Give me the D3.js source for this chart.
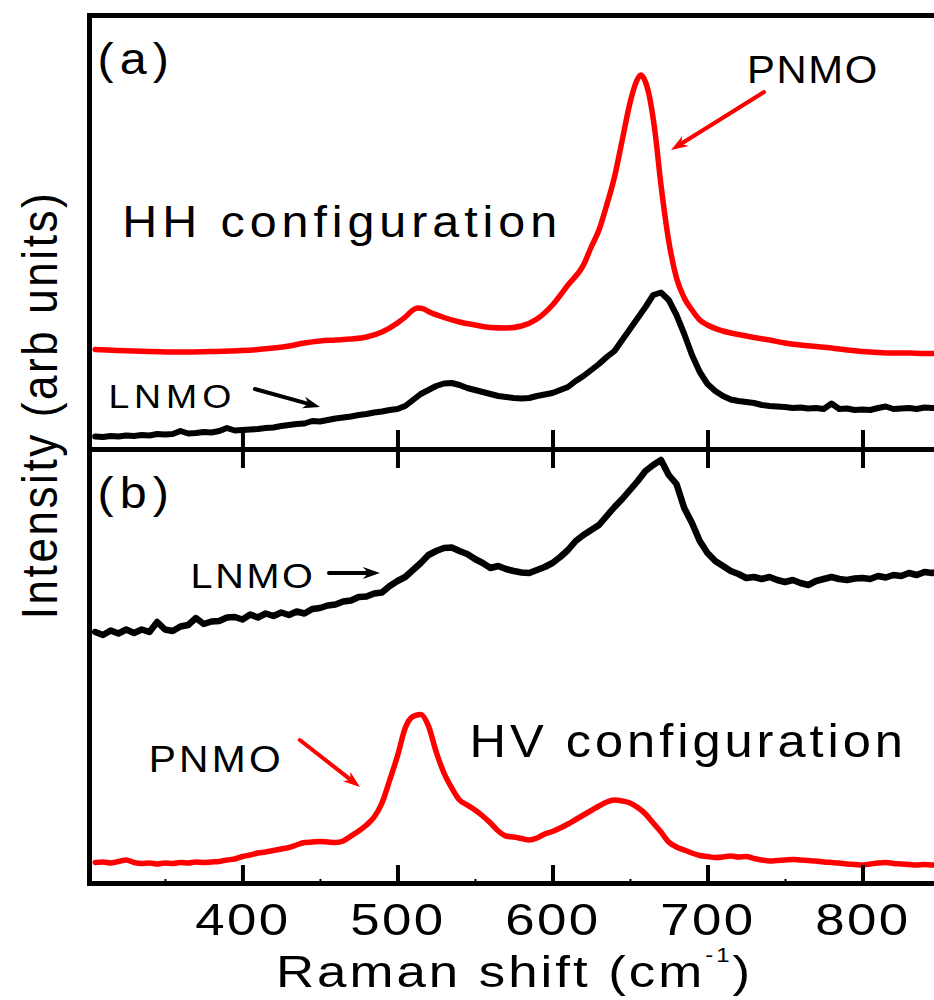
<!DOCTYPE html>
<html>
<head>
<meta charset="utf-8">
<script src="https://cdn.jsdelivr.net/npm/d3@7/dist/d3.min.js"></script>
<style>
  body { margin: 0; background: #fff; }
  svg text { font-family: "Liberation Sans", Arial, Helvetica, sans-serif; fill: #000; }
</style>
</head>
<body>
<div id="chart"></div>
<script>
/*
* Raman spectra of LNMO and PNMO films, HH (a) and HV (b) configurations
*/

//Raman shift grid (cm-1) shared by the 5 cm-1 sampled curves
var shiftGrid = [305, 310, 315, 320, 325, 330, 335, 340, 345, 350,
    355, 360, 365, 370, 375, 380, 385, 390, 395, 400,
    405, 410, 415, 420, 425, 430, 435, 440, 445, 450,
    455, 460, 465, 470, 475, 480, 485, 490, 495, 500,
    505, 510, 515, 520, 525, 530, 535, 540, 545, 550,
    555, 560, 565, 570, 575, 580, 585, 590, 595, 600,
    605, 610, 615, 620, 625, 630, 635, 640, 645, 650,
    655, 660, 665, 670, 675, 680, 685, 690, 695, 700,
    705, 710, 715, 720, 725, 730, 735, 740, 745, 750,
    755, 760, 765, 770, 775, 780, 785, 790, 795, 800,
    805, 810, 815, 820, 825, 830, 835, 840, 845, 850];

//(a) HH configuration, LNMO (black)
var hhLnmo = [125, 120, 130, 125, 135, 130, 140, 135, 150, 145,
    150, 180, 155, 160, 170, 165, 180, 210, 185, 190,
    195, 200, 210, 215, 230, 240, 250, 255, 280, 275,
    290, 305, 315, 325, 340, 350, 365, 375, 390, 400,
    430, 490, 550, 590, 630, 655, 660, 640, 610, 590,
    570, 550, 530, 520, 510, 505, 510, 530, 545, 560,
    590, 620, 680, 730, 790, 850, 920, 980, 1090, 1200,
    1310, 1420, 1540, 1565, 1490, 1340, 1150, 940, 770, 650,
    580, 530, 495, 480, 470, 460, 440, 430, 425, 420,
    410, 415, 405, 410, 400, 455, 400, 405, 390, 395,
    390, 410, 425, 400, 405, 410, 400, 415, 410, 415];

//(a) HH configuration, PNMO (red) - finer sampling round the sharp peak
var hhPnmoShift = [305, 320, 340, 360, 380, 400, 410, 420, 430, 440,
    450, 460, 470, 480, 490, 500, 505, 510, 513, 517,
    520, 530, 540, 550, 560, 570, 580, 590, 600, 610,
    620, 625, 630, 635, 640, 645, 650, 654, 657, 660,
    663, 666, 670, 675, 680, 685, 690, 695, 700, 710,
    720, 730, 740, 750, 760, 770, 780, 790, 800, 810,
    820, 830, 840, 850];
var hhPnmo = [995, 985, 975, 970, 975, 985, 995, 1010, 1030, 1060,
    1080, 1090, 1100, 1120, 1170, 1260, 1320, 1390, 1410, 1400,
    1375, 1315, 1270, 1240, 1215, 1210, 1230, 1300, 1440, 1640,
    1840, 2020, 2190, 2440, 2720, 3090, 3460, 3670, 3740, 3670,
    3490, 3190, 2640, 2080, 1710, 1510, 1390, 1290, 1240, 1180,
    1145, 1115, 1090, 1060, 1040, 1025, 1010, 990, 975, 965,
    960, 960, 955, 955];

//(b) HV configuration, LNMO (black)
var hvLnmo = [2510, 2480, 2525, 2495, 2535, 2500, 2535, 2510, 2610, 2535,
    2520, 2565, 2580, 2650, 2590, 2615, 2620, 2655, 2660, 2635,
    2685, 2655, 2695, 2670, 2705, 2680, 2715, 2695, 2740, 2750,
    2775, 2785, 2815, 2825, 2860, 2865, 2895, 2905, 2970, 3020,
    3060, 3130, 3200, 3280, 3320, 3350, 3355, 3320, 3290, 3240,
    3200, 3150, 3170, 3140, 3120, 3105, 3100, 3130, 3160, 3200,
    3260, 3330, 3420, 3480, 3530, 3580, 3670, 3760, 3840, 3930,
    4020, 4120, 4180, 4230, 4080, 3990, 3750, 3600, 3420, 3300,
    3220, 3170, 3120, 3090, 3050, 3060, 3040, 3060, 3030, 3010,
    3030, 3000, 2980, 3020, 3040, 3060, 3040, 3030, 3045, 3050,
    3040, 3070, 3055, 3080, 3070, 3100, 3080, 3110, 3100, 3120];

//(b) HV configuration, PNMO (red)
var hvPnmo = [205, 210, 200, 215, 230, 205, 195, 200, 190, 200,
    195, 205, 200, 210, 205, 210, 215, 230, 240, 265,
    280, 300, 310, 325, 340, 355, 380, 405, 410, 415,
    410, 405, 420, 470, 520, 580, 660, 800, 1030, 1270,
    1550, 1665, 1685, 1570, 1310, 1100, 950, 830, 780, 730,
    670, 600, 520, 470, 460, 445, 430, 450, 490, 515,
    550, 590, 635, 680, 725, 770, 810, 830, 820, 800,
    755, 690, 600, 510, 410, 360, 330, 300, 275, 265,
    255, 260, 270, 260, 265, 245, 230, 220, 225, 230,
    235, 230, 225, 220, 210, 205, 200, 190, 185, 180,
    190, 200, 205, 195, 190, 185, 180, 185, 180, 185];

var majorTicks = [400, 500, 600, 700, 800];
var minorTicks = [350, 450, 550, 650, 750, 850];

//Annotations, given in (shift, intensity) of their panel
var notes = [
    {panel: "a", text: "(a)", at: [306.5, 3750], size: 44, ls: 5.5},
    {panel: "a", text: "HH configuration", at: [322.5, 2120], size: 44, ls: 4.5},
    {panel: "a", text: "PNMO", at: [725.5, 3660], size: 38, ls: 1.5},
    {panel: "a", text: "LNMO", at: [313.5, 410], size: 34, ls: 4.5},
    {panel: "b", text: "(b)", at: [306.5, 3750], size: 44, ls: 5.5},
    {panel: "b", text: "LNMO", at: [366.5, 2950], size: 36, ls: 2.4},
    {panel: "b", text: "PNMO", at: [339.5, 1110], size: 37, ls: 3},
    {panel: "b", text: "HV configuration", at: [546.5, 1260], size: 46, ls: 3.6}
];
var arrows = [
    {panel: "a", from: [736.5, 3570], to: [676.5, 2990], color: "#ff0000"},
    {panel: "a", from: [408, 600], to: [450, 420], color: "#000"},
    {panel: "b", from: [455.8, 3100], to: [488.7, 3100], color: "#000"},
    {panel: "b", from: [437, 1430], to: [475.8, 960], color: "#ff0000"}
];

var width = 934, height = 1000;

var svg = d3.select("#chart")
    .append("svg")
    .attr("width", width)
    .attr("height", height);

//Scales: both panels share x, each panel has its own intensity scale
var x = d3.scaleLinear().domain([301, 850]).range([89, 940]);
var yA = d3.scaleLinear().domain([0, 4340]).range([449, 15]);
var yB = d3.scaleLinear().domain([0, 4340]).range([883, 449]);
var yOf = {a: yA, b: yB};

svg.append("clipPath").attr("id", "plotClip")
    .append("rect").attr("x", 89).attr("y", 15).attr("width", width - 89).attr("height", 868);

//Spectra
function drawSpectrum(shifts, values, y, color, strokeWidth, smooth) {
    var line = d3.line()
        .curve(smooth ? d3.curveMonotoneX : d3.curveLinear)
        .x(function (d) { return x(d[0]); })
        .y(function (d) { return y(d[1]); });
    svg.append("path")
        .datum(d3.zip(shifts, values))
        .attr("clip-path", "url(#plotClip)")
        .attr("d", line)
        .attr("fill", "none")
        .attr("stroke", color)
        .attr("stroke-width", strokeWidth)
        .attr("stroke-linejoin", "round")
        .attr("stroke-linecap", "round");
}

drawSpectrum(hhPnmoShift, hhPnmo, yA, "#ff0000", 5.5, true);
drawSpectrum(shiftGrid, hhLnmo, yA, "#000", 6, false);
drawSpectrum(shiftGrid, hvLnmo, yB, "#000", 6.5, false);
drawSpectrum(shiftGrid, hvPnmo, yB, "#ff0000", 5.5, true);

//Axis styling helper
function styleAxis(g, tickWidth) {
    g.select(".domain").attr("stroke", "#000").attr("stroke-width", 5).attr("stroke-linecap", "square");
    g.selectAll(".tick line").attr("stroke", "#000").attr("stroke-width", tickWidth);
}

//Top frame line
svg.append("g").attr("transform", "translate(0,15)")
    .call(d3.axisTop(x).tickValues([]).tickSizeOuter(0))
    .call(function (g) { styleAxis(g, 2); });

//Divider: ticks up into (a) and down into (b)
svg.append("g").attr("transform", "translate(0,449)")
    .call(d3.axisTop(x).tickValues(majorTicks).tickSize(19).tickSizeOuter(0).tickFormat(""))
    .call(function (g) { styleAxis(g, 4); });
svg.append("g").attr("transform", "translate(0,449)")
    .call(d3.axisBottom(x).tickValues(majorTicks).tickSize(19).tickSizeOuter(0).tickFormat(""))
    .call(function (g) { styleAxis(g, 4); });
svg.append("g").attr("transform", "translate(0,449)")
    .call(d3.axisBottom(x).tickValues(minorTicks).tickSize(3).tickSizeOuter(0).tickFormat(""))
    .call(function (g) { g.select(".domain").remove(); styleAxis(g, 2); });

//Bottom axis with labels
svg.append("g").attr("transform", "translate(0,883)")
    .call(d3.axisBottom(x).tickValues(majorTicks).tickSize(-18).tickSizeOuter(0).tickFormat(d3.format("d")))
    .call(function (g) {
        styleAxis(g, 4);
        g.selectAll(".tick text")
            .attr("y", 52)
            .attr("dy", null)
            .attr("transform", "scale(1.2,1)")
            .style("font-size", "44px")
            .style("letter-spacing", "2px")
            .attr("fill", "#000");
    });
svg.append("g").attr("transform", "translate(0,883)")
    .call(d3.axisBottom(x).tickValues(minorTicks).tickSize(-4).tickSizeOuter(0).tickFormat(""))
    .call(function (g) { g.select(".domain").remove(); styleAxis(g, 2); });

//Left axes (small ticks only)
svg.append("g").attr("transform", "translate(89,0)")
    .call(d3.axisRight(yA).tickValues(d3.range(160, 4340, 300)).tickSize(3).tickSizeOuter(0).tickFormat(""))
    .call(function (g) { styleAxis(g, 2); });
svg.append("g").attr("transform", "translate(89,0)")
    .call(d3.axisRight(yB).tickValues(d3.range(360, 4340, 467)).tickSize(3).tickSizeOuter(0).tickFormat(""))
    .call(function (g) { styleAxis(g, 2); });

//Axis titles
var xTitle = svg.append("text")
    .attr("transform", "translate(276,987) scale(1.2,1)")
    .style("font-size", "44px")
    .style("letter-spacing", "2.5px");
xTitle.append("tspan").text("Raman shift (cm");
xTitle.append("tspan").attr("dy", -25).style("font-size", "20px").text("-1");
xTitle.append("tspan").attr("dy", 25).text(")");

svg.append("text")
    .attr("transform", "translate(57,405) rotate(-90) scale(1,1.15)")
    .attr("text-anchor", "middle")
    .style("font-size", "44px")
    .style("letter-spacing", "2.6px")
    .text("Intensity (arb units)");

//Annotation texts
notes.forEach(function (n) {
    var y = yOf[n.panel];
    svg.append("text")
        .attr("transform", "translate(" + x(n.at[0]) + "," + y(n.at[1]) + ") scale(1.1,1)")
        .style("font-size", n.size + "px")
        .style("letter-spacing", n.ls + "px")
        .text(n.text);
});

//Arrows with a barbed head
arrows.forEach(function (a) {
    var y = yOf[a.panel];
    var x0 = x(a.from[0]), y0 = y(a.from[1]), x1 = x(a.to[0]), y1 = y(a.to[1]);
    var len = Math.hypot(x1 - x0, y1 - y0), ux = (x1 - x0) / len, uy = (y1 - y0) / len;
    var hl = 17, hw = 6;
    var bx = x1 - ux * hl, by = y1 - uy * hl;
    svg.append("line")
        .attr("x1", x0).attr("y1", y0)
        .attr("x2", x1 - ux * 10).attr("y2", y1 - uy * 10)
        .attr("stroke", a.color)
        .attr("stroke-width", 4)
        .attr("stroke-linecap", "round");
    svg.append("path")
        .attr("d", "M" + x1 + "," + y1 +
            "L" + (bx - uy * hw) + "," + (by + ux * hw) +
            "L" + (x1 - ux * hl * 0.7) + "," + (y1 - uy * hl * 0.7) +
            "L" + (bx + uy * hw) + "," + (by - ux * hw) + "Z")
        .attr("fill", a.color);
});
</script>
</body>
</html>
